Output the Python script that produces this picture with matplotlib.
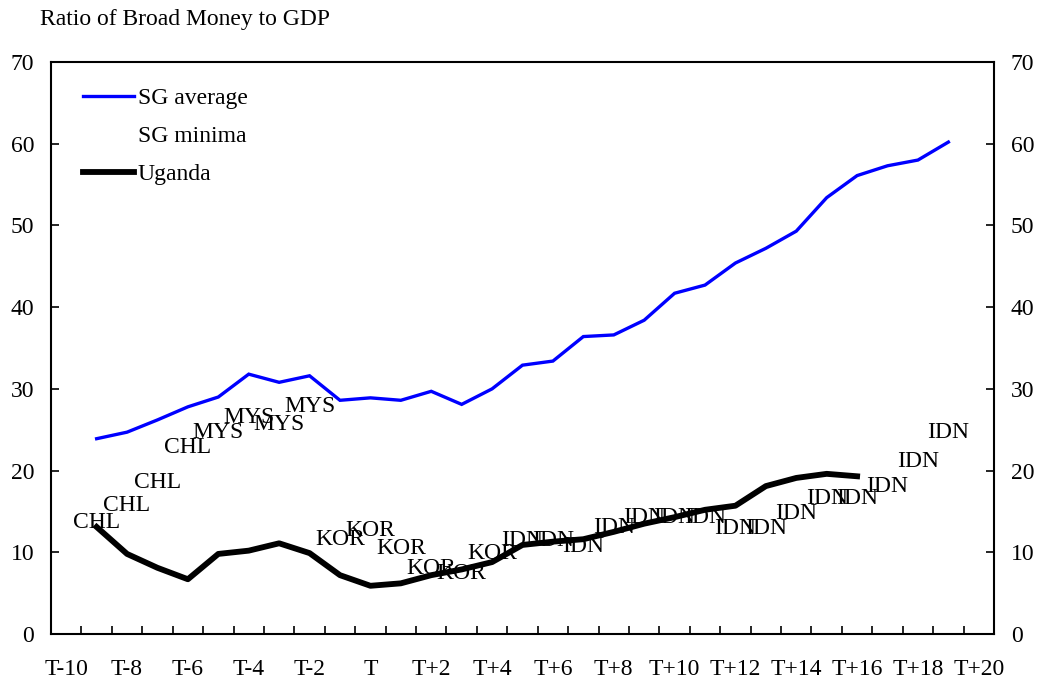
import matplotlib
matplotlib.use("Agg")
import matplotlib.pyplot as plt
from matplotlib.ticker import FixedLocator, NullFormatter

plt.rcParams['font.family'] = ['Liberation Serif', 'DejaVu Serif']

periods = ["T-10", "T-9", "T-8", "T-7", "T-6", "T-5", "T-4", "T-3", "T-2", "T-1",
           "T", "T+1", "T+2", "T+3", "T+4", "T+5", "T+6", "T+7", "T+8", "T+9",
           "T+10", "T+11", "T+12", "T+13", "T+14", "T+15", "T+16", "T+17", "T+18",
           "T+19", "T+20"]

# SG average: T-9 .. T+19
sg_average = [23.9, 24.7, 26.2, 27.8, 29.0, 31.8, 30.8, 31.6, 28.6, 28.9,
              28.6, 29.7, 28.1, 30.0, 32.9, 33.4, 36.4, 36.6, 38.4, 41.7,
              42.7, 45.4, 47.2, 49.3, 53.4, 56.1, 57.3, 58.0, 60.2]

# SG minima (shown only as country labels): T-9 .. T+19
sg_minima = [13.7, 15.7, 18.6, 22.8, 24.7, 26.5, 25.6, 27.9, 11.6, 12.7,
             10.5, 8.0, 7.4, 9.9, 11.5, 11.5, 10.7, 13.0, 14.2, 14.2,
             14.3, 12.9, 12.9, 14.8, 16.6, 16.6, 18.1, 21.1, 24.7]
minima_country = ["CHL", "CHL", "CHL", "CHL", "MYS", "MYS", "MYS", "MYS",
                  "KOR", "KOR", "KOR", "KOR", "KOR", "KOR",
                  "IDN", "IDN", "IDN", "IDN", "IDN", "IDN", "IDN", "IDN", "IDN",
                  "IDN", "IDN", "IDN", "IDN", "IDN", "IDN"]

# Uganda: T-9 .. T+16
uganda = [13.1, 9.8, 8.1, 6.7, 9.8, 10.2, 11.1, 9.9, 7.2, 5.9,
          6.2, 7.2, 7.9, 8.8, 10.9, 11.3, 11.6, 12.5, 13.5, 14.3,
          15.2, 15.7, 18.1, 19.1, 19.6, 19.3]

start = 1
x_avg = list(range(start, start + len(sg_average)))
x_min = list(range(start, start + len(sg_minima)))
x_uga = list(range(start, start + len(uganda)))

FS = 17

fig = plt.figure(figsize=(10.46, 6.88), dpi=100)
ax = fig.add_axes([51/1046, 1-634/688, (994-51)/1046, (634-62)/688])

ax.plot(x_avg, sg_average, color='#0000FF', lw=2.4, label='SG average',
        solid_joinstyle='miter')
ax.plot(x_min, sg_minima, linestyle='none', label='SG minima')
ax.plot(x_uga, uganda, color='black', lw=4.2, label='Uganda',
        solid_joinstyle='round')

for xi, yi, c in zip(x_min, sg_minima, minima_country):
    ax.text(xi, yi, c, ha='center', va='center', fontsize=FS, color='black')

ax.set_xlim(-0.5, len(periods) - 0.5)
ax.set_ylim(0, 70)
ax.set_yticks(range(0, 71, 10))

ax.xaxis.set_major_locator(FixedLocator(list(range(0, len(periods), 2))))
ax.set_xticklabels(periods[::2])
ax.xaxis.set_minor_locator(FixedLocator([k + 0.5 for k in range(len(periods) - 1)]))
ax.xaxis.set_minor_formatter(NullFormatter())
ax.tick_params(axis='x', which='major', length=0, pad=18, labelsize=FS)
ax.tick_params(axis='x', which='minor', direction='in', length=6, width=1.2)
ax.tick_params(axis='y', which='major', direction='in', length=6, width=1.2,
               labelsize=FS, pad=12, left=True, right=True,
               labelleft=True, labelright=True)

for s in ax.spines.values():
    s.set_linewidth(1.5)

leg = ax.legend(loc='upper left', bbox_to_anchor=(0.0335, 0.955), frameon=False,
                fontsize=FS, handlelength=2.16, handletextpad=0.17,
                labelspacing=0.7, borderpad=0, borderaxespad=0)

fig.text(40/1046, 1-19/688, "Ratio of Broad Money to GDP", ha='left', va='center',
         fontsize=FS)

fig.savefig("out.png", dpi=100)
